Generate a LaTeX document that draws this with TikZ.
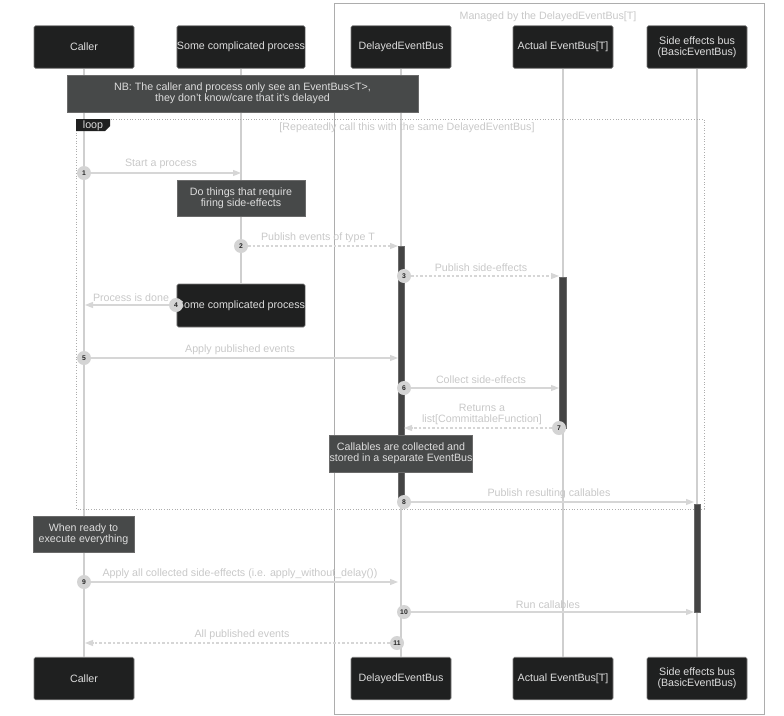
\documentclass[tikz,border=0pt]{standalone}
\usepackage{fontspec}
\setmainfont{Liberation Sans}
\usetikzlibrary{arrows.meta}
\usepackage{xcolor}
\definecolor{actorfill}{HTML}{1F2020}
\definecolor{actorline}{HTML}{7A7A7A}
\definecolor{lighttext}{HTML}{DDDDDD}
\definecolor{lifeline}{HTML}{CFCFCF}
\definecolor{notefill}{HTML}{474949}
\definecolor{noteline}{HTML}{6A6A6A}
\definecolor{msgline}{HTML}{D6D6D6}
\definecolor{msgtext}{HTML}{C8C8C8}
\definecolor{numfill}{HTML}{D4D4D4}
\definecolor{actfill}{HTML}{444444}
\definecolor{boxline}{HTML}{ADADAD}
\newcommand\dfont{\fontsize{10.67}{11.4}\selectfont}
\newcommand\nfont{\fontsize{6.8}{7}\selectfont\bfseries}

\begin{document}
\begin{tikzpicture}[x=1pt,y=-1pt,
  actor/.style={draw=actorline, line width=0.6pt, fill=actorfill, text=lighttext,
    rounded corners=1.5pt, minimum height=42.5pt, inner sep=0pt, align=center, font=\dfont},
  note/.style={draw=noteline, line width=0.6pt, fill=notefill, text=lighttext,
    inner sep=0pt, align=center, font=\dfont},
  life/.style={draw=lifeline, line width=1.2pt},
  msg/.style={draw=msgline, line width=1.2pt, -{Triangle[length=8pt,width=6pt]}},
  reply/.style={msg, dash pattern=on 2.5pt off 2pt},
  lbl/.style={text=msgtext, font=\dfont, inner sep=0pt, align=center},
  num/.style={circle, fill=numfill, minimum size=14pt, inner sep=0pt, font=\nfont, text=black!85},
  activ/.style={fill=actfill, draw=noteline, line width=0.5pt}]
\useasboundingbox (0,0) rectangle (784,715);
\newcommand\xcall{84}
\newcommand\xproc{241}
\newcommand\xdeb{401}
\newcommand\xaeb{563}
\newcommand\xseb{697}

% managed box
\draw[boxline, line width=1pt] (334,3) rectangle (764,714);
\node[lbl] (mgd) at (548,17) {Managed by the DelayedEventBus[T]};

% actors (top)
\node[actor, minimum width=100pt] (callT) at (\xcall,47) {Caller};
\node[actor, minimum width=128pt] (procT) at (\xproc,47) {Some complicated process};
\node[actor, minimum width=100pt] (debT) at (\xdeb,47) {DelayedEventBus};
\node[actor, minimum width=100pt] (aebT) at (\xaeb,47) {Actual EventBus[T]};
\node[actor, minimum width=100pt] (sebT) at (\xseb,47) {Side effects bus\\(BasicEventBus)};
% actors (bottom)
\node[actor, minimum width=100pt] (callB) at (\xcall,678.5) {Caller};
\node[actor, minimum width=100pt] (debB) at (\xdeb,678.5) {DelayedEventBus};
\node[actor, minimum width=100pt] (aebB) at (\xaeb,678.5) {Actual EventBus[T]};
\node[actor, minimum width=100pt] (sebB) at (\xseb,678.5) {Side effects bus\\(BasicEventBus)};
\node[actor, minimum width=128pt, minimum height=43pt] (procE) at (\xproc,305.5) {Some complicated process};

% lifelines
\draw[life] (callT) -- (callB);
\draw[life] (procT) -- (procE);
\draw[life] (debT) -- (debB);
\draw[life] (aebT) -- (aebB);
\draw[life] (sebT) -- (sebB);

% loop frame
\draw[boxline, line width=0.7pt, dotted] (76,119) rectangle (704,509);
\fill[actorfill] (76,119) -- (110,119) -- (110,126) -- (105,131) -- (76,131) -- cycle;
\node[lbl, text=lighttext] (looptag) at (93,125.5) {loop};
\node[lbl] (loopcond) at (407,128) {[Repeatedly call this with the same DelayedEventBus]};

% activations
\draw[activ] (398,246) rectangle (404,500);
\draw[activ] (559,277) rectangle (566,428);
\draw[activ] (694,504) rectangle (700,612);

% notes
\node[note, minimum width=351pt, minimum height=37pt] (nb) at (242.5,93.5)
  {NB: The caller and process only see an EventBus<T>,\\they don't know/care that it's delayed};
\node[note, minimum width=128pt, minimum height=36pt] (dothings) at (\xproc,198)
  {Do things that require\\firing side-effects};
\node[note, minimum width=140pt, minimum height=37pt] (callables) at (\xdeb,453.5)
  {Callables are collected and\\stored in a separate EventBus};
\node[note, minimum width=101pt, minimum height=36pt] (ready) at (83.5,534)
  {When ready to\\execute everything};

% messages
\coordinate (e1) at (\xproc,173);
\coordinate (e2) at (398,246);
\coordinate (e3) at (559,276);
\coordinate (e4) at (85,305);
\coordinate (e5) at (398,358);
\coordinate (e6) at (559,388);
\coordinate (e7) at (404,428);
\coordinate (e8) at (694,502);
\coordinate (e9) at (398,582);
\coordinate (e10) at (694,612);
\coordinate (e11) at (85,643);

\node[num] (n1) at (\xcall,173) {1};
\node[num] (n2) at (\xproc,246) {2};
\node[num] (n3) at (404,276) {3};
\node[num] (n4) at (176,305) {4};
\node[num] (n5) at (\xcall,358) {5};
\node[num] (n6) at (404,388) {6};
\node[num] (n7) at (559,428) {7};
\node[num] (n8) at (404,502) {8};
\node[num] (n9) at (\xcall,582) {9};
\node[num] (n10) at (404,612) {10};
\node[num] (n11) at (397,643) {11};

\draw[msg] (n1) -- (e1);
\draw[reply] (n2) -- (e2);
\draw[reply] (n3) -- (e3);
\draw[msg] (n4) -- (e4);
\draw[msg] (n5) -- (e5);
\draw[msg] (n6) -- (e6);
\draw[reply] (n7) -- (e7);
\draw[msg] (n8) -- (e8);
\draw[msg] (n9) -- (e9);
\draw[msg] (n10) -- (e10);
\draw[reply] (n11) -- (e11);

% message labels
\node[lbl] (l1) at (161,163.5) {Start a process};
\node[lbl] (l2) at (318,237.5) {Publish events of type T};
\node[lbl] (l3) at (481,267.5) {Publish side-effects};
\node[lbl] (l4) at (131,297.5) {Process is done};
\node[lbl] (l5) at (240,349.5) {Apply published events};
\node[lbl] (l6) at (481,379.5) {Collect side-effects};
\node[lbl] (l7) at (482,414.5) {Returns a\\list[CommittableFunction]};
\node[lbl] (l8) at (549,493.5) {Publish resulting callables};
\node[lbl] (l9) at (240,573.5) {Apply all collected side-effects (i.e. apply\_without\_delay())};
\node[lbl] (l10) at (548,604.5) {Run callables};
\node[lbl] (l11) at (242,634.5) {All published events};
\end{tikzpicture}
\end{document}
